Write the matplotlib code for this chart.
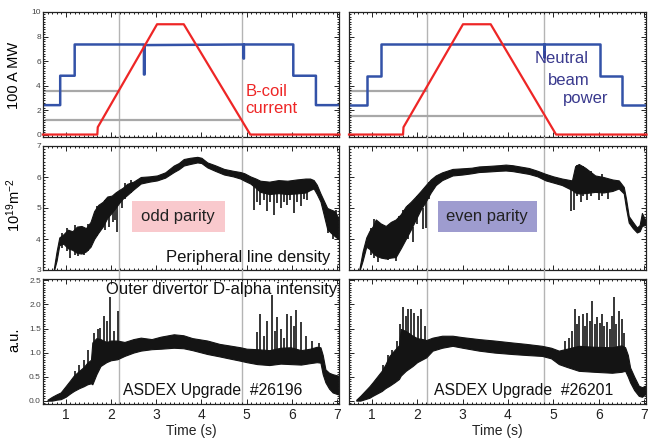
import numpy as np
import matplotlib
matplotlib.use("Agg")
import matplotlib.pyplot as plt
from matplotlib.ticker import AutoMinorLocator, FormatStrFormatter, MultipleLocator
from matplotlib.patches import Rectangle

plt.rcParams['font.family'] = ['Liberation Sans', 'DejaVu Sans']

# ---------------- data ----------------
# Top row: neutral beam power (MW) and B-coil current (100 A)
nbi_t_L = [0.5, 0.88, 0.88, 1.20, 1.20, 2.73, 2.73, 2.745, 2.745, 4.93, 4.93, 4.94, 4.94, 6.03, 6.03, 6.53, 6.53, 7.05]
nbi_v_L = [2.4, 2.4, 4.8, 4.8, 7.35, 7.35, 4.9, 4.9, 7.3, 7.35, 6.2, 6.2, 7.35, 7.35, 4.8, 4.8, 2.4, 2.4]
nbi_t_R = [0.5, 0.89, 0.89, 1.20, 1.20, 4.79, 4.79, 4.80, 4.80, 6.03, 6.03, 6.52, 6.52, 7.05]
nbi_v_R = [2.4, 2.4, 4.8, 4.8, 7.35, 7.35, 6.3, 6.3, 7.35, 7.35, 4.8, 4.8, 2.4, 2.4]

coil_t_L = [0.5, 1.70, 1.71, 3.02, 3.61, 5.08, 7.05]
coil_v_L = [0.0, 0.0, 0.6, 9.0, 9.0, 0.0, 0.0]
coil_t_R = [0.5, 1.69, 1.70, 3.01, 3.62, 5.06, 7.05]
coil_v_R = [0.0, 0.0, 0.6, 9.0, 9.0, 0.0, 0.0]

# grey reference levels: (start, end, level)
grey_L = [(0.5, 2.19, 3.55), (0.56, 4.82, 1.15)]
grey_R = [(0.5, 2.21, 3.55), (0.53, 4.75, 1.55)]
vmark_L = [2.19, 4.90]
vmark_R = [2.21, 4.79]

# Middle row: peripheral line density (1e19 m^-2), band envelope
dens_t_L = [0.74, 0.80, 0.86, 0.95, 1.05, 1.15, 1.25, 1.35, 1.45, 1.55, 1.63, 1.72, 1.82, 1.92, 2.02, 2.10, 2.18, 2.26, 2.36,
            2.50, 2.66, 2.85, 3.02, 3.20, 3.39, 3.50, 3.61, 3.75, 3.91, 4.00, 4.13, 4.30, 4.50, 4.70, 4.86, 4.95,
            5.08, 5.20, 5.30, 5.50, 5.70, 5.90, 6.10, 6.30, 6.40, 6.48, 6.55, 6.63, 6.70, 6.78, 6.86, 6.94, 7.02]
dens_hi_L = [3.05, 3.60, 4.05, 4.15, 4.30, 4.25, 4.40, 4.42, 4.35, 4.55, 4.90, 5.10, 5.20, 5.37, 5.40, 5.50, 5.58, 5.65, 5.78,
             5.85, 6.00, 6.02, 6.05, 6.15, 6.37, 6.45, 6.58, 6.62, 6.65, 6.62, 6.47, 6.38, 6.26, 6.20, 6.16, 6.12,
             6.02, 5.95, 5.88, 5.85, 5.90, 5.88, 5.92, 5.95, 5.95, 5.90, 5.75, 5.47, 5.25, 5.00, 4.95, 4.90, 4.70]
dens_lo_L = [2.97, 3.30, 3.80, 3.85, 3.70, 3.65, 3.55, 3.53, 3.60, 3.75, 4.00, 4.20, 4.40, 4.68, 4.85, 5.00, 5.16, 5.30, 5.42,
             5.60, 5.79, 5.85, 5.89, 5.98, 6.16, 6.25, 6.37, 6.42, 6.47, 6.45, 6.31, 6.20, 6.08, 6.02, 5.95, 5.88,
             5.79, 5.65, 5.52, 5.45, 5.48, 5.45, 5.47, 5.50, 5.58, 5.63, 5.45, 5.21, 4.80, 4.32, 4.20, 4.10, 4.00]
dens_t_R = [0.73, 0.80, 0.88, 0.95, 1.02, 1.09, 1.20, 1.31, 1.42, 1.53, 1.64, 1.75, 1.86, 1.97, 2.08, 2.19, 2.30, 2.41,
            2.55, 2.78, 3.00, 3.20, 3.36, 3.60, 3.80, 3.95, 4.10, 4.30, 4.46, 4.65, 4.83, 5.00, 5.19, 5.30, 5.41,
            5.48, 5.56, 5.70, 5.92, 6.10, 6.30, 6.44, 6.55, 6.60, 6.66, 6.75, 6.84, 6.90, 6.95, 7.02]
dens_hi_R = [3.05, 3.60, 4.05, 4.26, 4.40, 4.63, 4.50, 4.42, 4.55, 4.63, 4.80, 5.05, 5.20, 5.37, 5.55, 5.74, 5.92, 6.05,
             6.15, 6.26, 6.28, 6.30, 6.34, 6.36, 6.38, 6.40, 6.38, 6.33, 6.29, 6.20, 6.10, 6.02, 5.95, 5.92, 5.89,
             6.35, 6.42, 6.30, 6.05, 6.00, 5.92, 5.89, 5.68, 5.30, 4.74, 4.55, 4.37, 4.45, 4.84, 4.63]
dens_lo_R = [2.97, 3.30, 3.75, 3.68, 3.55, 3.47, 3.40, 3.37, 3.40, 3.42, 3.70, 4.00, 4.30, 4.63, 4.95, 5.21, 5.50, 5.74,
             5.90, 6.05, 6.08, 6.12, 6.16, 6.18, 6.20, 6.21, 6.19, 6.14, 6.10, 6.02, 5.89, 5.82, 5.74, 5.66, 5.58,
             5.50, 5.47, 5.48, 5.52, 5.50, 5.55, 5.63, 5.47, 5.00, 4.53, 4.35, 4.21, 4.25, 4.42, 4.45]
# spikes: (time, bottom, top)
dens_spk_L = [(0.92, 3.70, 4.20), (1.02, 3.60, 4.35), (1.10, 3.40, 3.80), (1.20, 3.50, 4.45), (1.28, 3.45, 3.70),
              (1.40, 3.48, 3.70), (1.50, 3.60, 4.50), (1.63, 4.00, 4.30), (1.70, 4.10, 5.05), (1.77, 4.32, 4.60),
              (1.86, 4.30, 5.25), (1.95, 4.40, 4.80), (2.05, 4.55, 4.95), (2.10, 4.60, 5.45), (2.14, 4.21, 5.10),
              (2.25, 5.00, 5.35), (2.32, 5.30, 5.80), (2.45, 5.50, 5.90),
              (5.16, 4.95, 5.70), (5.23, 5.20, 5.75), (5.30, 5.10, 5.55), (5.38, 5.25, 5.70), (5.45, 4.89, 5.50),
              (5.52, 5.20, 5.60), (5.60, 4.79, 5.50), (5.68, 5.15, 5.60), (5.75, 5.00, 5.50), (5.82, 5.20, 5.60),
              (5.89, 5.10, 5.50), (5.96, 5.25, 5.60), (6.04, 4.84, 5.50), (6.12, 5.20, 5.60), (6.19, 5.05, 5.50),
              (6.26, 5.30, 5.60), (6.33, 5.26, 5.60), (6.80, 4.20, 4.90), (6.90, 4.00, 4.80), (6.97, 4.05, 4.95)]
dens_spk_R = [(0.98, 3.50, 4.35), (1.06, 3.40, 4.65), (1.13, 3.26, 3.50), (1.22, 3.40, 4.50), (1.35, 3.32, 3.50),
              (1.45, 3.40, 4.55), (1.53, 3.30, 3.50), (1.60, 3.60, 4.75), (1.70, 3.85, 4.95), (1.80, 4.00, 5.10),
              (1.90, 3.89, 4.40), (2.00, 4.50, 5.40), (2.12, 4.32, 5.00), (2.19, 4.37, 5.20), (2.27, 5.30, 5.85),
              (5.38, 4.89, 5.60), (5.45, 4.95, 5.55), (5.52, 5.40, 6.40), (5.60, 5.20, 5.50), (5.66, 5.40, 6.35),
              (5.75, 5.25, 5.50), (5.82, 5.40, 6.20), (6.00, 5.25, 5.55), (6.08, 5.40, 6.10), (6.20, 5.30, 5.55)]

# Bottom row: outer divertor D-alpha (a.u.), band envelope
da_t_L = [0.60, 0.70, 0.80, 0.89, 1.00, 1.10, 1.18, 1.30, 1.40, 1.48, 1.56, 1.59, 1.68, 1.77, 1.90, 2.00, 2.14, 2.30,
          2.50, 2.66, 2.90, 3.10, 3.39, 3.60, 3.80, 4.13, 4.40, 4.60, 4.86, 5.00, 5.23, 5.50, 5.75, 5.97, 6.20,
          6.40, 6.55, 6.63, 6.68, 6.74, 6.82, 6.90, 7.02]
da_hi_L = [0.02, 0.08, 0.13, 0.17, 0.30, 0.42, 0.52, 0.62, 0.70, 0.79, 0.85, 1.21, 1.30, 1.28, 1.22, 1.25, 1.25, 1.22,
           1.28, 1.31, 1.28, 1.33, 1.38, 1.36, 1.30, 1.25, 1.18, 1.15, 1.11, 1.08, 1.07, 1.05, 1.10, 1.11, 1.05,
           1.08, 1.12, 1.11, 0.95, 0.65, 0.58, 0.55, 0.52]
da_lo_L = [0.00, 0.00, 0.02, 0.03, 0.08, 0.15, 0.20, 0.26, 0.30, 0.34, 0.36, 0.34, 0.55, 0.72, 0.80, 0.84, 0.86, 0.93,
           1.00, 1.04, 1.07, 1.08, 1.10, 1.09, 1.05, 0.97, 0.92, 0.88, 0.83, 0.80, 0.76, 0.74, 0.77, 0.76, 0.75,
           0.78, 0.80, 0.79, 0.55, 0.38, 0.25, 0.17, 0.13]
da_t_R = [0.66, 0.75, 0.85, 0.95, 1.02, 1.12, 1.22, 1.30, 1.39, 1.50, 1.60, 1.64, 1.75, 1.90, 2.00, 2.12, 2.20, 2.34,
          2.55, 2.78, 3.00, 3.36, 3.70, 4.09, 4.40, 4.75, 4.95, 5.12, 5.30, 5.56, 5.90, 6.29, 6.50, 6.58, 6.64,
          6.69, 6.78, 6.88, 6.95, 7.02]
da_hi_R = [0.02, 0.10, 0.20, 0.30, 0.38, 0.50, 0.62, 0.75, 0.93, 1.05, 1.15, 1.49, 1.45, 1.35, 1.30, 1.28, 1.26, 1.31,
           1.35, 1.35, 1.32, 1.28, 1.25, 1.21, 1.18, 1.14, 1.10, 1.04, 1.08, 1.14, 1.12, 1.11, 1.15, 1.11, 0.95,
           0.69, 0.50, 0.31, 0.28, 0.31]
da_lo_R = [0.00, 0.00, 0.03, 0.06, 0.10, 0.15, 0.20, 0.26, 0.31, 0.38, 0.45, 0.52, 0.62, 0.72, 0.80, 0.86, 0.90, 1.04,
           1.10, 1.14, 1.10, 1.04, 1.00, 0.97, 0.95, 0.93, 0.88, 0.76, 0.70, 0.62, 0.60, 0.58, 0.60, 0.62, 0.50,
           0.38, 0.22, 0.10, 0.08, 0.13]
# upward ELM spikes: (time, bottom, top)
da_spk_L = [(1.20, 0.35, 0.62), (1.30, 0.40, 0.75), (1.40, 0.45, 0.85), (1.50, 0.70, 1.05), (1.62, 1.00, 1.40),
            (1.72, 1.10, 1.50), (1.77, 1.15, 1.51), (1.85, 1.15, 1.75), (1.92, 1.15, 1.66), (1.99, 1.15, 2.15),
            (2.07, 1.15, 1.45), (2.16, 1.15, 1.87),
            (5.23, 1.00, 1.42), (5.30, 1.00, 1.80), (5.38, 1.00, 1.35), (5.45, 1.00, 1.66), (5.56, 1.00, 2.20),
            (5.62, 1.00, 1.45), (5.67, 1.00, 1.73), (5.75, 1.00, 1.49), (5.82, 1.00, 1.30), (5.89, 1.00, 1.80),
            (5.98, 1.00, 1.75), (6.04, 1.00, 1.55), (6.10, 1.00, 1.88), (6.19, 1.00, 1.63), (6.30, 1.00, 1.35),
            (6.45, 1.00, 1.24), (6.60, 1.00, 1.20)]
da_spk_R = [(1.25, 0.40, 0.75), (1.35, 0.50, 0.95), (1.45, 0.60, 1.05), (1.55, 0.80, 1.25),
            (1.62, 1.10, 1.60), (1.68, 1.10, 1.94), (1.75, 1.10, 1.76), (1.79, 1.10, 1.90), (1.86, 1.10, 1.90),
            (1.94, 1.10, 1.83), (2.01, 1.10, 1.76), (2.08, 1.10, 1.90), (2.17, 1.10, 1.56),
            (5.25, 1.00, 1.25), (5.34, 1.00, 1.31), (5.40, 1.00, 1.45), (5.47, 1.00, 1.90), (5.52, 1.00, 1.60),
            (5.56, 1.00, 1.76), (5.65, 1.00, 1.80), (5.70, 1.00, 1.55), (5.74, 1.00, 1.83), (5.80, 1.00, 1.65),
            (5.85, 1.00, 2.08), (5.92, 1.00, 1.60), (5.96, 1.00, 1.73), (6.02, 1.00, 1.62), (6.07, 1.00, 1.80),
            (6.12, 1.00, 1.55), (6.18, 1.00, 1.63), (6.24, 1.00, 1.50), (6.29, 1.00, 1.76), (6.33, 1.00, 2.15),
            (6.38, 1.00, 1.60), (6.44, 1.00, 1.87), (6.51, 1.00, 1.70), (6.56, 1.00, 1.40)]

shots = ["#26196", "#26201"]
parity = ["odd parity", "even parity"]
parity_color = ["#f9c9cd", "#9e9ccf"]

# ---------------- layout ----------------
W, H = 648, 441
fig = plt.figure(figsize=(W / 100, H / 100), dpi=100)

def fr(x0, x1, ytop, ybot):
    return [x0 / W, 1 - ybot / H, (x1 - x0) / W, (ybot - ytop) / H]

cols = [(43, 339), (349, 646)]
rows = [(12, 137), (146, 270), (279, 404)]
ylims = [(-0.2, 10.0), (3.0, 7.0), (-0.07, 2.53)]
xlim = (0.5, 7.04)

BLUE = "#3352a8"
RED = "#ee2626"
GREY = "#a8a8a8"
K = "#141414"

axes = [[None] * 2 for _ in range(3)]
for c, (x0, x1) in enumerate(cols):
    for r, (yt, yb) in enumerate(rows):
        ax = fig.add_axes(fr(x0, x1, yt, yb))
        axes[r][c] = ax
        ax.set_xlim(*xlim)
        ax.set_ylim(*ylims[r])
        ax.xaxis.set_major_locator(MultipleLocator(1))
        ax.xaxis.set_minor_locator(AutoMinorLocator(10))
        ax.yaxis.set_minor_locator(AutoMinorLocator(10))
        ax.tick_params(which='both', direction='in', top=True, right=True, width=0.7, colors='#222')
        ax.tick_params(which='major', length=3.5)
        ax.tick_params(which='minor', length=1.6)
        ax.tick_params(axis='y', labelsize=6, pad=1.5, labelcolor='#444')
        ax.tick_params(axis='x', labelsize=10, pad=3, labelcolor='#222')
        for s in ax.spines.values():
            s.set_linewidth(0.9)
            s.set_color('#222')
        if r < 2:
            ax.tick_params(axis='x', labelbottom=False)
        if c == 1:
            ax.tick_params(axis='y', labelleft=False)
    axes[0][c].yaxis.set_major_locator(MultipleLocator(2))
    axes[1][c].yaxis.set_major_locator(MultipleLocator(1))
    axes[2][c].yaxis.set_major_locator(MultipleLocator(0.5))
    axes[2][c].yaxis.set_major_formatter(FormatStrFormatter('%.1f'))
    axes[2][c].set_xlabel("Time (s)", fontsize=10, labelpad=1.5, color='#222')

data = [
    dict(nbi=(nbi_t_L, nbi_v_L), coil=(coil_t_L, coil_v_L), grey=grey_L, vm=vmark_L,
         dens=(dens_t_L, dens_lo_L, dens_hi_L), dspk=dens_spk_L,
         da=(da_t_L, da_lo_L, da_hi_L), aspk=da_spk_L),
    dict(nbi=(nbi_t_R, nbi_v_R), coil=(coil_t_R, coil_v_R), grey=grey_R, vm=vmark_R,
         dens=(dens_t_R, dens_lo_R, dens_hi_R), dspk=dens_spk_R,
         da=(da_t_R, da_lo_R, da_hi_R), aspk=da_spk_R),
]

for c in range(2):
    d = data[c]
    a0, a1, a2 = axes[0][c], axes[1][c], axes[2][c]
    # vertical markers across all rows (extend upward through the gaps)
    for r, ax in enumerate((a0, a1, a2)):
        for xv in d['vm']:
            ymax = 1 if r == 0 else 1.075
            ax.axvline(xv, ymin=0, ymax=ymax, color='#b4b4b4', lw=1.0, zorder=0.5, clip_on=False)
    # top
    for (xs, xe, lv) in d['grey']:
        a0.plot([xs, xe], [lv, lv], color=GREY, lw=1.6, zorder=1)
    a0.plot(d['nbi'][0], d['nbi'][1], color=BLUE, lw=1.8, zorder=2)
    a0.plot(d['coil'][0], d['coil'][1], color=RED, lw=1.6, zorder=3, clip_on=False)
    # density
    t, lo, hi = d['dens']
    a1.fill_between(t, lo, hi, color=K, lw=0.8, edgecolor=K, zorder=2)
    sp = np.array(d['dspk'])
    a1.vlines(sp[:, 0], sp[:, 1], sp[:, 2], color=K, lw=1.2, zorder=2)
    # D-alpha
    t, lo, hi = d['da']
    a2.fill_between(t, lo, hi, color=K, lw=0.8, edgecolor=K, zorder=2)
    sp = np.array(d['aspk'])
    a2.vlines(sp[:, 0], sp[:, 1], sp[:, 2], color=K, lw=1.2, zorder=2)
    # parity box
    x_lo, x_hi = (2.457, 4.517) if c == 0 else (2.449, 4.644)
    a1.add_patch(Rectangle((x_lo, 4.23), x_hi - x_lo, 1.0, facecolor=parity_color[c],
                           edgecolor='none', zorder=3))
    a1.text((x_lo + x_hi) / 2, 4.73, parity[c], ha='center', va='center', fontsize=12,
            color='#222', zorder=4)
    # shot label
    a2.text(2.27 if c == 0 else 2.37, 0.11, "ASDEX Upgrade  " + shots[c], ha='left',
            va='baseline', fontsize=11.3, color='#111', zorder=4)

axes[0][0].text(4.97, 2.85, "B-coil\ncurrent", color=RED, fontsize=12, ha='left', va='center',
                linespacing=1.15)
NB = "#3a3a8e"
axes[0][1].text(4.585, 6.17, "Neutral", color=NB, fontsize=12, ha='left', va='center')
axes[0][1].text(4.87, 4.42, "beam", color=NB, fontsize=12, ha='left', va='center')
axes[0][1].text(5.20, 2.95, "power", color=NB, fontsize=12, ha='left', va='center')

axes[1][0].text(6.85, 3.27, "Peripheral line density", ha='right', va='baseline', fontsize=12,
                color='#111', zorder=4)
axes[2][0].text(7.0, 2.22, "Outer divertor D-alpha intensity", ha='right', va='baseline',
                fontsize=12, color='#111', zorder=4, clip_on=False)

fig.text(14 / W, 1 - 75 / H, "100 A MW", rotation=90, ha='center', va='center', fontsize=10.5)
fig.text(14 / W, 1 - 205 / H, r"$\mathregular{10^{19}m^{-2}}$", rotation=90, ha='center',
         va='center', fontsize=10.5)
fig.text(14 / W, 1 - 340 / H, "a.u.", rotation=90, ha='center', va='center', fontsize=10.5)

fig.savefig("out.png", dpi=100)
